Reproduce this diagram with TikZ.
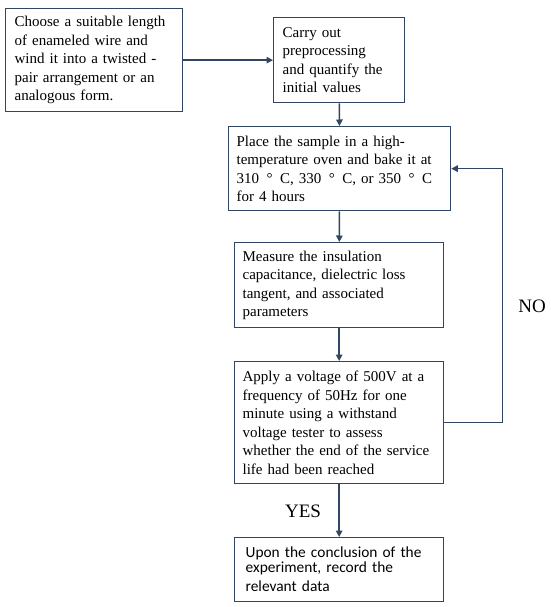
\documentclass[tikz,border=0pt]{standalone}
\usepackage{fontspec}
\setmainfont{Liberation Serif}
\newfontfamily\calib{Carlito}
\usetikzlibrary{arrows.meta}
\definecolor{lc}{RGB}{48,70,98}
\begin{document}
\begin{tikzpicture}[x=1pt,y=-1pt,
 box/.style={draw=lc, line width=1.3pt, inner sep=0pt, align=left, anchor=north west,
   font=\fontsize{15}{18.5}\selectfont},
 arr/.style={draw=lc, line width=1.5pt, -{Triangle[length=6.5pt,width=6.5pt]}},
 lbl/.style={font=\fontsize{19}{22}\selectfont, inner sep=0pt}]
\useasboundingbox (0,0) rectangle (550,607);
\node[box, minimum width=177pt, minimum height=103pt, text width=159pt] (a) at (5,8)
 {Choose a suitable length\\of enameled wire and\\wind it into a twisted -\\pair arrangement or an\\analogous form.};
\node[box, minimum width=131pt, minimum height=85pt, text width=113pt] (b) at (273,17)
 {Carry out\\preprocessing\\and quantify the\\initial values};
\node[box, minimum width=222pt, minimum height=84pt, text width=206pt] (c) at (228,126)
 {Place the sample in a high-\\temperature oven and bake it at\\310 \,°\, C, 330 \,°\, C, or 350 \,°\, C\\for 4 hours};
\node[box, minimum width=209pt, minimum height=85pt, text width=193pt] (d) at (234,242)
 {Measure the insulation\\capacitance, dielectric loss\\tangent, and associated\\parameters};
\node[box, minimum width=209pt, minimum height=122pt, text width=193pt] (e) at (234,361)
 {Apply a voltage of 500V at a\\frequency of 50Hz for one\\minute using a withstand\\voltage tester to assess\\whether the end of the service\\life had been reached};
\node[box, minimum width=209pt, minimum height=64pt, text width=187pt, font=\calib\fontsize{15.4}{19}\selectfont] (f) at (234,537)
 {\vspace*{-4pt}Upon the conclusion of the\\experiment, record the\\relevant data};
\draw[arr] (a) -- (b);
\draw[arr] (b) -- (c);
\draw[arr] (c) -- (d);
\draw[arr] (d) -- (e);
\draw[arr] (e) -- (f);
\draw[arr] (e.east) -- ++(58,0) coordinate (r) |- (c.east);
\node[lbl] (no) at (532,306) {NO};
\node[lbl] (yes) at (303,511) {YES};
\end{tikzpicture}
\end{document}
